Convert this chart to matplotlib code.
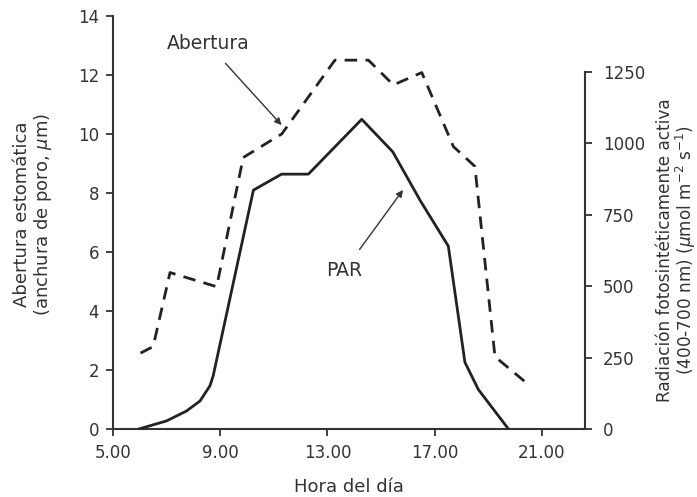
import matplotlib.pyplot as plt

# Abertura estomática (eje izquierdo, µm)
hora_ab = [6.03, 6.5, 7.13, 8.87, 9.86, 11.3, 13.28, 14.53, 15.46, 16.52, 17.7, 18.5, 19.25, 20.37]
abertura = [2.57, 2.79, 5.3, 4.82, 9.2, 10.0, 12.5, 12.5, 11.66, 12.08, 9.57, 8.9, 2.45, 1.6]

# PAR (eje derecho, µmol m-2 s-1)
hora_par = [5.98, 7.0, 7.75, 8.25, 8.62, 8.74, 10.24, 11.29, 12.29, 14.28, 15.44, 16.46, 17.51, 18.13, 18.63, 19.75]
par = [0, 28, 63, 98, 151, 186, 836, 892, 892, 1084, 970, 800, 640, 233, 138, 0]

xticks = [5, 9, 13, 17, 21]
yticks_left = [0, 2, 4, 6, 8, 10, 12, 14]
yticks_right = [0, 250, 500, 750, 1000, 1250]

gray = '#333333'
plt.rcParams['font.family'] = 'DejaVu Sans'
plt.rcParams['text.color'] = gray
plt.rcParams['axes.labelcolor'] = gray
plt.rcParams['xtick.color'] = gray
plt.rcParams['ytick.color'] = gray

fig = plt.figure(figsize=(6.97, 4.97), dpi=100)
ax = fig.add_axes([0.162, 0.137, 0.677, 0.831])
ax2 = ax.twinx()

ax.plot(hora_ab, abertura, color='#222222', lw=2, dashes=(4.5, 3))
ax2.plot(hora_par, par, color='#222222', lw=2)

ax.set_xlim(5, 22.6)
ax.set_ylim(0, 14)
ax2.set_ylim(0, 1250 * 413 / 357)

ax.set_xticks(xticks)
ax.set_xticklabels([f'{x:.2f}' for x in xticks])
ax.set_yticks(yticks_left)
ax2.set_yticks(yticks_right)

for a in (ax, ax2):
    a.spines['top'].set_visible(False)
    for s in a.spines.values():
        s.set_linewidth(1.5)
        s.set_color(gray)
    a.tick_params(labelsize=12, width=1.3, length=5)
ax.tick_params(axis='x', pad=6)
ax.tick_params(axis='y', pad=5)
ax2.tick_params(axis='y', pad=8)
ax.spines['right'].set_visible(False)
ax2.spines['left'].set_visible(False)
ax2.spines['bottom'].set_visible(False)
ax2.spines['right'].set_bounds(0, 1250)

ax.set_xlabel('Hora del día', fontsize=13)
ax.xaxis.set_label_coords(0.5, -0.118)
ax.set_ylabel('Abertura estomática\n(anchura de poro, $\\mu$m)', fontsize=13, linespacing=1.05)
ax.yaxis.set_label_coords(-0.125, 0.52)
ax2.set_ylabel('Radiación fotosintéticamente activa\n(400-700 nm) ($\\mu$mol m$^{-2}$ s$^{-1}$)',
               fontsize=12.2, linespacing=1.0)
ax2.yaxis.set_label_coords(1.15, 0.433)

ax.annotate('Abertura', xy=(11.29, 10.3), xytext=(8.54, 13.05), ha='center', va='center',
            fontsize=13.5, arrowprops=dict(arrowstyle='-|>', lw=1, color=gray, mutation_scale=10,
                                           shrinkA=7, shrinkB=0))
ax.annotate('PAR', xy=(15.82, 8.1), xytext=(13.62, 5.36), ha='center', va='center',
            fontsize=13.5, arrowprops=dict(arrowstyle='-|>', lw=1, color=gray, mutation_scale=10,
                                           shrinkA=8, shrinkB=0))

fig.savefig('out.png', dpi=100)
